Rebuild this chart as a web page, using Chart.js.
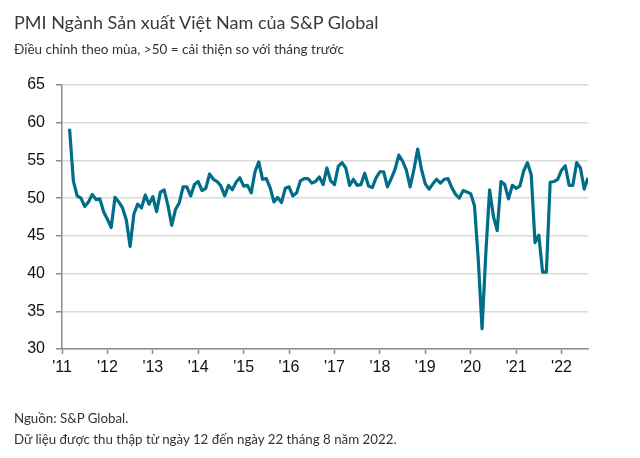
<!DOCTYPE html>
<html>
<head>
<meta charset="utf-8">
<script src="https://cdn.jsdelivr.net/npm/chart.js@4/dist/chart.umd.min.js"></script>
<style>
    body { margin: 0; background: #fff; }
    #wrap { position: relative; width: 640px; height: 458px; overflow: hidden; }
    #chartBox { position: absolute; left: 0; top: 0; width: 640px; height: 458px; }
    .txt { position: absolute; left: 14px; font-family: Lato, sans-serif; white-space: nowrap; }
    #title { top: 11px; font-size: 18px; color: #3a3a3a; }
    #subtitle { top: 41px; font-size: 13.5px; color: #333; }
    #src { top: 410px; font-size: 13.3px; color: #333; }
    #note { top: 431px; font-size: 13.3px; color: #333; }
</style>
</head>
<body>
<div id="wrap">
    <div id="chartBox"><canvas id="pmiChart"></canvas></div>
    <div class="txt" id="title">PMI Ngành Sản xuất Việt Nam của S&amp;P Global</div>
    <div class="txt" id="subtitle">Điều chỉnh theo mùa, &gt;50 = cải thiện so với tháng trước</div>
    <div class="txt" id="src">Nguồn: S&amp;P Global.</div>
    <div class="txt" id="note">Dữ liệu được thu thập từ ngày 12 đến ngày 22 tháng 8 năm 2022.</div>
</div>
<script>
// Monthly PMI readings, one array per year (2011 starts in March, 2022 ends in August)
const pmi2011 = [59.2, 52.3, 50.3, 50.0, 48.9, 49.5, 50.5, 49.8, 49.9, 48.2];
const pmi2012 = [47.2, 46.1, 50.1, 49.5, 48.7, 47.1, 43.6, 47.9, 49.2, 48.7, 50.4, 49.2];
const pmi2013 = [50.2, 48.2, 50.8, 51.1, 49.0, 46.4, 48.5, 49.4, 51.5, 51.5, 50.3, 51.8];
const pmi2014 = [52.2, 51.0, 51.3, 53.2, 52.5, 52.2, 51.6, 50.3, 51.7, 51.1, 52.1, 52.7];
const pmi2015 = [51.6, 51.7, 50.7, 53.5, 54.8, 52.5, 52.6, 51.4, 49.5, 50.1, 49.4, 51.3];
const pmi2016 = [51.5, 50.3, 50.7, 52.3, 52.6, 52.6, 52.0, 52.2, 52.8, 51.8, 54.0, 52.3];
const pmi2017 = [51.8, 54.2, 54.7, 54.0, 51.7, 52.5, 51.7, 51.8, 53.3, 51.6, 51.4, 52.7];
const pmi2018 = [53.5, 53.5, 51.5, 52.6, 53.8, 55.7, 54.9, 53.7, 51.5, 53.8, 56.5, 53.8];
const pmi2019 = [51.9, 51.2, 51.9, 52.5, 52.0, 52.5, 52.6, 51.4, 50.5, 50.0, 51.0, 50.8];
const pmi2020 = [50.6, 49.0, 41.9, 32.7, 42.7, 51.1, 47.6, 45.7, 52.2, 51.8, 49.9, 51.7];
const pmi2021 = [51.3, 51.6, 53.6, 54.7, 53.1, 44.1, 45.1, 40.2, 40.2, 52.1, 52.2, 52.5];
const pmi2022 = [53.7, 54.3, 51.7, 51.7, 54.7, 54.0, 51.2, 52.7];

const years = [2011, 2012, 2013, 2014, 2015, 2016, 2017, 2018, 2019, 2020, 2021, 2022];
const yearLabels = ["'11", "'12", "'13", "'14", "'15", "'16", "'17", "'18", "'19", "'20", "'21", "'22"];
const firstMonth2011 = 2; // March
const yTicks = [30, 35, 40, 45, 50, 55, 60, 65];

const byYear = [pmi2011, pmi2012, pmi2013, pmi2014, pmi2015, pmi2016,
                pmi2017, pmi2018, pmi2019, pmi2020, pmi2021, pmi2022];

// x = months since January 2011
const points = [];
byYear.forEach((vals, yi) => {
    const offset = yi === 0 ? firstMonth2011 : 0;
    vals.forEach((v, mi) => points.push({ x: yi * 12 + offset + mi, y: v }));
});
const lastX = points[points.length - 1].x;

const axisFont = { family: '"Liberation Sans", Arial, sans-serif', size: 16 };

new Chart(document.getElementById('pmiChart'), {
    type: 'line',
    data: {
        datasets: [{
            label: 'PMI',
            data: points,
            borderColor: '#006e89',
            borderWidth: 3.2,
            borderJoinStyle: 'round',
            pointRadius: 0,
            tension: 0,
            fill: false
        }]
    },
    options: {
        responsive: true,
        maintainAspectRatio: false,
        animation: false,
        layout: {
            padding: { left: 0, right: 52, top: 85, bottom: 69 }
        },
        plugins: {
            legend: { display: false },
            tooltip: { enabled: false }
        },
        scales: {
            x: {
                type: 'linear',
                min: 0,
                max: lastX,
                afterBuildTicks: axis => {
                    axis.ticks = years.map((y, i) => ({ value: i * 12 }));
                },
                afterFit: axis => { axis.height = 40; },
                ticks: {
                    color: '#111',
                    font: axisFont,
                    padding: 4,
                    maxRotation: 0,
                    autoSkip: false,
                    callback: v => yearLabels[Math.round(v / 12)]
                },
                grid: {
                    drawOnChartArea: false,
                    drawTicks: true,
                    tickLength: 5,
                    tickColor: '#8c8c8c',
                    tickWidth: 1.5
                },
                border: { color: '#8c8c8c', width: 1.5 }
            },
            y: {
                min: 30,
                max: 65,
                afterBuildTicks: axis => {
                    axis.ticks = yTicks.map(v => ({ value: v }));
                },
                afterFit: axis => { axis.width = 62; },
                ticks: {
                    color: '#111',
                    font: axisFont,
                    padding: 11
                },
                grid: {
                    color: '#dadada',
                    lineWidth: 1.5,
                    tickLength: 6,
                    tickColor: '#8c8c8c',
                    tickWidth: 1.5
                },
                border: { color: '#8c8c8c', width: 1.5 }
            }
        }
    }
});
</script>
</body>
</html>
